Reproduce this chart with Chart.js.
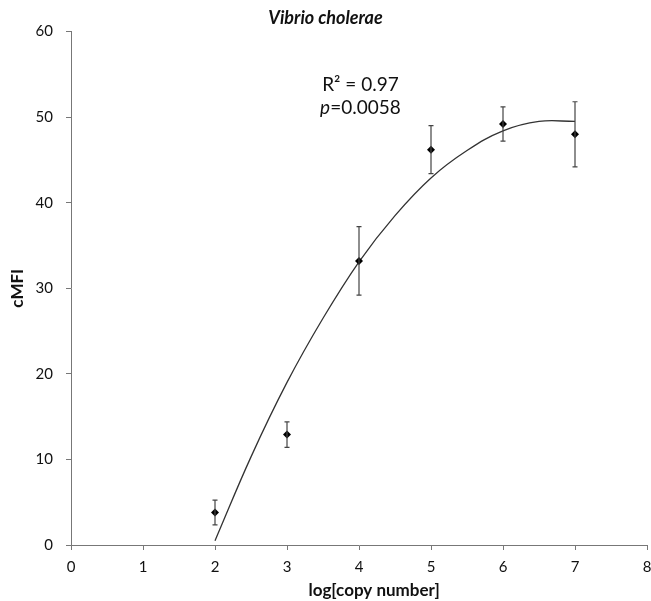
<!DOCTYPE html>
<html>
<head>
<meta charset="utf-8">
<script src="https://cdn.jsdelivr.net/npm/chart.js@4"></script>
<style>
  html, body { margin: 0; padding: 0; background: #fff; }
  #wrap { width: 651px; height: 601px; }
</style>
</head>
<body>
<div id="wrap"><canvas id="vc-chart"></canvas></div>
<script>
// measured points
const copyLog = [2, 3, 4, 5, 6, 7];
const cmfi = [3.8, 12.9, 33.2, 46.2, 49.2, 48.0];
const cmfiErr = [1.45, 1.5, 4.0, 2.8, 2.0, 3.8];

// trend line
const trendX = [2, 2.5, 3, 3.5, 4, 4.5, 5, 5.5, 6, 6.5, 7];
const trendY = [0.5, 10.3, 19.0, 26.5, 33.1, 38.5, 42.9, 46.1, 48.4, 49.5, 49.5];

const xTicks = [0, 1, 2, 3, 4, 5, 6, 7, 8];
const yTicks = [0, 10, 20, 30, 40, 50, 60];

const fontFamily = "Lato, 'Open Sans', sans-serif";

const errorBars = {
    id: 'errorBars',
    afterDatasetsDraw(chart) {
        const {ctx, scales: {x, y}} = chart;
        ctx.save();
        ctx.strokeStyle = '#444';
        ctx.lineWidth = 1.2;
        copyLog.forEach((v, i) => {
            const px = x.getPixelForValue(v),
                  top = y.getPixelForValue(cmfi[i] + cmfiErr[i]),
                  bot = y.getPixelForValue(cmfi[i] - cmfiErr[i]);
            ctx.beginPath();
            ctx.moveTo(px, top); ctx.lineTo(px, bot);
            ctx.moveTo(px - 2.5, top); ctx.lineTo(px + 2.5, top);
            ctx.moveTo(px - 2.5, bot); ctx.lineTo(px + 2.5, bot);
            ctx.stroke();
        });
        ctx.restore();
    }
};

const statsText = {
    id: 'statsText',
    afterDraw(chart) {
        const {ctx, scales: {x, y}} = chart;
        const cx = x.getPixelForValue(4.02);
        const fs = '19px ';
        ctx.save();
        ctx.fillStyle = '#111';
        ctx.textBaseline = 'middle';
        ctx.textAlign = 'left';
        ctx.font = fs + fontFamily;

        // R² line
        let t = 'R² = 0.97';
        let w = ctx.measureText(t).width;
        ctx.fillText(t, cx - w / 2, y.getPixelForValue(53.8));

        // p line, p in italics
        const yp = y.getPixelForValue(51.1);
        ctx.font = 'italic ' + fs + fontFamily;
        const wp = ctx.measureText('p').width;
        ctx.font = fs + fontFamily;
        const wr = ctx.measureText('=0.0058').width;
        const sx = cx - (wp + wr) / 2;
        ctx.font = 'italic ' + fs + fontFamily;
        ctx.fillText('p', sx, yp);
        ctx.font = fs + fontFamily;
        ctx.fillText('=0.0058', sx + wp, yp);

        // x axis title, sits a bit right of centre in the original
        ctx.font = 'bold 17px ' + fontFamily;
        ctx.textAlign = 'center';
        ctx.fillText('log[copy number]', x.getPixelForValue(4.21), x.bottom - 10);
        ctx.restore();
    }
};

document.addEventListener("DOMContentLoaded", () => {
    const ctx = document.getElementById('vc-chart');

    new Chart(ctx, {
        type: 'scatter',
        data: {
            datasets: [
                {
                    label: 'cMFI',
                    data: copyLog.map((v, i) => ({x: v, y: cmfi[i]})),
                    pointStyle: 'rectRot',
                    pointRadius: 4,
                    backgroundColor: '#000',
                    borderColor: '#000',
                    borderWidth: 0,
                    order: 1
                },
                {
                    type: 'line',
                    label: 'trend',
                    data: trendX.map((v, i) => ({x: v, y: trendY[i]})),
                    borderColor: '#333',
                    borderWidth: 1.3,
                    pointRadius: 0,
                    fill: false,
                    tension: 0.4,
                    order: 2
                }
            ]
        },
        options: {
            responsive: true,
            maintainAspectRatio: false,
            animation: false,
            layout: { padding: { left: 0, right: 0, top: 0, bottom: 0 } },
            plugins: {
                legend: { display: false },
                tooltip: { enabled: false },
                title: {
                    display: true,
                    text: 'Vibrio cholerae',
                    color: '#111',
                    font: { family: fontFamily, size: 18, weight: 'bold', style: 'italic' },
                    padding: { top: 7, bottom: 3 }
                }
            },
            scales: {
                x: {
                    type: 'linear',
                    min: 0,
                    max: 8,
                    afterBuildTicks: (scale) => { scale.ticks = xTicks.map(v => ({value: v})); },
                    afterFit: (scale) => {
                        scale.height = 56;
                        scale.paddingLeft = 0;
                        scale.paddingRight = 4;
                    },
                    grid: { drawOnChartArea: false, drawTicks: true, tickLength: 5, color: '#777' },
                    border: { display: true, color: '#777', width: 1 },
                    ticks: { color: '#111', padding: 8, font: { family: fontFamily, size: 15 } },
                    title: { display: false }
                },
                y: {
                    type: 'linear',
                    min: 0,
                    max: 60,
                    afterBuildTicks: (scale) => { scale.ticks = yTicks.map(v => ({value: v})); },
                    afterFit: (scale) => { scale.width = 71; },
                    grid: { drawOnChartArea: false, drawTicks: true, tickLength: 5, color: '#777' },
                    border: { display: true, color: '#777', width: 1 },
                    ticks: { color: '#111', padding: 13, font: { family: fontFamily, size: 15 } },
                    title: {
                        display: true,
                        text: 'cMFI',
                        color: '#111',
                        font: { family: fontFamily, size: 17, weight: 'bold' },
                        padding: { top: 7, bottom: 0 }
                    }
                }
            }
        },
        plugins: [errorBars, statsText]
    });
});
</script>
</body>
</html>
